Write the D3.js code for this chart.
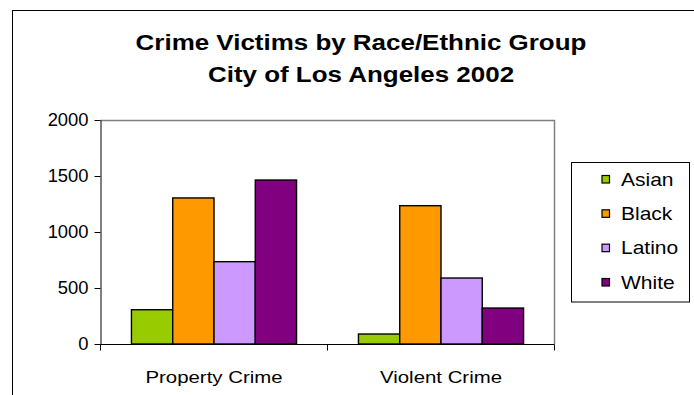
<!DOCTYPE html>
<html>
<head>
<meta charset="utf-8">
<script src="https://cdn.jsdelivr.net/npm/d3@7"></script>
<style>
  html, body { margin: 0; padding: 0; background: #fff; }
  svg { display: block; font-family: "Liberation Sans", Arial, sans-serif; }
</style>
</head>
<body>
<svg id="chart" width="694" height="395"></svg>
<script>
// Crime victims, City of Los Angeles 2002
const categories = ["Property Crime", "Violent Crime"];
const groups = ["Asian", "Black", "Latino", "White"];
const asian  = [306, 89];
const black  = [1304, 1235];
const latino = [735, 589];
const white  = [1464, 321];
const yTicks = [0, 500, 1000, 1500, 2000];
const colors = ["#99CC00", "#FF9900", "#CC99FF", "#800080"];
const titleLines = ["Crime Victims by Race/Ethnic Group", "City of Los Angeles 2002"];

const series = [asian, black, latino, white];
const rows = categories.map((c, i) => ({
  category: c,
  values: groups.map((g, j) => ({ group: g, value: series[j][i] }))
}));

const svg = d3.select("#chart");
const stretch = 1.2; // text is drawn slightly widened

// outer chart frame (runs off the right and bottom edges)
svg.append("rect")
  .attr("x", 12.5).attr("y", 10.5)
  .attr("width", 700).attr("height", 400)
  .attr("fill", "#fff").attr("stroke", "#000").attr("stroke-width", 1);

// title
const title = svg.append("g");
titleLines.forEach((t, i) => {
  title.append("g")
    .attr("transform", `translate(361,${50 + i * 32}) scale(1.18,1)`)
    .append("text")
    .attr("text-anchor", "middle")
    .attr("font-size", 22).attr("font-weight", "bold")
    .attr("fill", "#000")
    .text(t);
});

// plot area
const plot = { left: 100.5, right: 554.5, top: 120, bottom: 344 };

const x0 = d3.scaleBand()
  .domain(categories)
  .range([plot.left, plot.right])
  .paddingInner(0).paddingOuter(0);

const gapFrac = 1.5 / 5.5; // gap width 150% of a bar
const x1 = d3.scaleBand()
  .domain(groups)
  .range([x0.bandwidth() * gapFrac / 2, x0.bandwidth() * (1 - gapFrac / 2)])
  .padding(0);

const y = d3.scaleLinear().domain([0, 2000]).range([plot.bottom, plot.top]);
const color = d3.scaleOrdinal().domain(groups).range(colors);

// plot area border (grey top and right)
svg.append("path")
  .attr("d", `M${plot.left},${plot.top + 0.5}H${plot.right}V${plot.bottom}`)
  .attr("fill", "none").attr("stroke", "#808080").attr("stroke-width", 1.5);

// bars
svg.append("g")
  .selectAll("g")
  .data(rows)
  .join("g")
  .attr("transform", d => `translate(${x0(d.category)},0)`)
  .selectAll("rect")
  .data(d => d.values)
  .join("rect")
  .attr("x", d => x1(d.group))
  .attr("y", d => y(d.value))
  .attr("width", x1.bandwidth())
  .attr("height", d => y(0) - y(d.value))
  .attr("fill", d => color(d.group))
  .attr("stroke", "#000").attr("stroke-width", 1.4);

// y axis
const yStretch = 1.05;
const yAxis = svg.append("g")
  .attr("transform", `translate(${plot.left},0)`)
  .call(d3.axisLeft(y).tickValues(yTicks).tickFormat(d3.format("d")).tickSize(6).tickPadding(7).tickSizeOuter(0));
yAxis.select(".domain").attr("stroke", "#000");
yAxis.selectAll(".tick line").attr("stroke", "#000");
yAxis.selectAll(".tick text")
  .attr("font-size", 17.5).attr("font-family", "Liberation Sans, Arial, sans-serif")
  .attr("fill", "#000")
  .attr("x", -12 / yStretch)
  .attr("transform", `scale(${yStretch},1)`);

// x axis: line, boundary ticks and category labels
const xAxis = svg.append("g").attr("transform", `translate(0,${plot.bottom + 0.5})`);
xAxis.append("line")
  .attr("x1", plot.left).attr("x2", plot.right)
  .attr("stroke", "#000");
const edges = categories.map(c => x0(c)).concat([x0.range()[1]]);
xAxis.selectAll(".edge")
  .data(edges)
  .join("line")
  .attr("class", "edge")
  .attr("x1", d => d).attr("x2", d => d)
  .attr("y1", 0).attr("y2", 6)
  .attr("stroke", "#000");
xAxis.selectAll(".cat")
  .data(categories)
  .join("g")
  .attr("class", "cat")
  .attr("transform", d => `translate(${x0(d) + x0.bandwidth() / 2},38.5) scale(${stretch},1)`)
  .append("text")
  .attr("text-anchor", "middle")
  .attr("font-size", 17).attr("fill", "#000")
  .text(d => d);

// legend
const legend = svg.append("g");
legend.append("rect")
  .attr("x", 571.5).attr("y", 162.5)
  .attr("width", 118).attr("height", 139.5)
  .attr("fill", "#fff").attr("stroke", "#000").attr("stroke-width", 1);

const legendY = d3.scalePoint().domain(groups).range([179, 282]);
const items = legend.selectAll(".item")
  .data(groups)
  .join("g")
  .attr("class", "item")
  .attr("transform", d => `translate(0,${legendY(d)})`);
items.append("rect")
  .attr("x", 602).attr("y", -3.5)
  .attr("width", 7.5).attr("height", 7.5)
  .attr("fill", d => color(d))
  .attr("stroke", "#000").attr("stroke-width", 1.2);
items.append("g")
  .attr("transform", `translate(621,6.5) scale(${stretch},1)`)
  .append("text")
  .attr("font-size", 17.5).attr("fill", "#000")
  .text(d => d);
</script>
</body>
</html>
